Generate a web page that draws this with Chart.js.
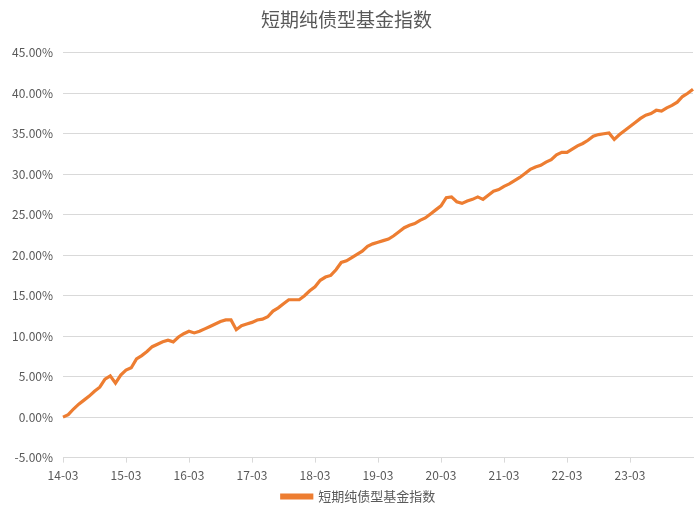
<!DOCTYPE html>
<html>
<head>
<meta charset="utf-8">
<script src="https://cdn.jsdelivr.net/npm/chart.js@4"></script>
<style>
    html, body { margin: 0; padding: 0; background: #fff; }
    #wrap { width: 700px; height: 513px; }
</style>
</head>
<body>
<div id="wrap"><canvas id="indexChart" width="700" height="513"></canvas></div>
<script>
const chartTitle = '短期纯债型基金指数';
const seriesName = '短期纯债型基金指数';

// years on the axis, one label per month from 14-03 to 24-03
const years = ['14', '15', '16', '17', '18', '19', '20', '21', '22', '23', '24'];
const monthNames = ['01', '02', '03', '04', '05', '06', '07', '08', '09', '10', '11', '12'];

// index value in %, one reading per month
const indexValues = [
    0.0, 0.3, 1.0, 1.6, 2.1, 2.6, 3.2, 3.7, 4.7, 5.1,
    4.2, 5.2, 5.8, 6.1, 7.2, 7.6, 8.1, 8.7, 9.0, 9.3,
    9.5, 9.3, 9.9, 10.3, 10.6, 10.4, 10.6, 10.9, 11.2, 11.5,
    11.8, 12.0, 12.0, 10.8, 11.3, 11.5, 11.7, 12.0, 12.1, 12.4,
    13.1, 13.5, 14.0, 14.5, 14.5, 14.5, 15.0, 15.6, 16.1, 16.9,
    17.3, 17.5, 18.2, 19.1, 19.3, 19.7, 20.1, 20.5, 21.1, 21.4,
    21.6, 21.8, 22.0, 22.4, 22.9, 23.4, 23.7, 23.9, 24.3, 24.6,
    25.1, 25.6, 26.1, 27.1, 27.2, 26.6, 26.4, 26.7, 26.9, 27.2,
    26.9, 27.4, 27.9, 28.1, 28.5, 28.8, 29.2, 29.6, 30.1, 30.6,
    30.9, 31.1, 31.5, 31.8, 32.4, 32.7, 32.7, 33.1, 33.5, 33.8,
    34.2, 34.7, 34.9, 35.0, 35.1, 34.3, 34.9, 35.4, 35.9, 36.4,
    36.9, 37.3, 37.5, 37.9, 37.8, 38.2, 38.5, 38.9, 39.6, 40.0,
    40.5
];

const lineColor = '#ED7D31';
const textColor = '#595959';
const gridColor = '#D9D9D9';
const fontFamily = '"Noto Sans CJK SC", "Noto Sans", sans-serif';

function buildMonths() {
    const labels = [];
    years.forEach((y, yi) => {
        monthNames.forEach((m, mi) => {
            if (yi === 0 && mi < 2) return;
            if (yi === years.length - 1 && mi > 2) return;
            labels.push(y + '-' + m);
        });
    });
    return labels;
}

const monthLabels = buildMonths();

// nudge the bottom legend a little to the right, like the original
const legendShift = {
    id: 'legendShift',
    afterLayout(chart) {
        if (!chart.legend) return;
        chart.legend.left += 12;
        chart.legend.right += 12;
    }
};

const ctx = document.getElementById('indexChart').getContext('2d');
new Chart(ctx, {
    type: 'line',
    data: {
        labels: monthLabels,
        datasets: [{
            label: seriesName,
            data: indexValues,
            borderColor: lineColor,
            backgroundColor: lineColor,
            borderWidth: 3.2,
            pointRadius: 0,
            tension: 0
        }]
    },
    options: {
        responsive: false,
        animation: false,
        layout: {
            padding: { left: 0, right: 7, top: 0, bottom: 0 }
        },
        plugins: {
            title: {
                display: true,
                text: chartTitle,
                color: textColor,
                font: { family: fontFamily, size: 19, weight: 'normal' },
                padding: { top: 8, bottom: 22 }
            },
            legend: {
                position: 'bottom',
                labels: {
                    color: textColor,
                    font: { family: fontFamily, size: 13 },
                    boxWidth: 30,
                    boxHeight: 3,
                    padding: 1
                }
            },
            tooltip: { enabled: false }
        },
        scales: {
            x: {
                type: 'category',
                offset: false,
                border: { display: true, color: gridColor, width: 1 },
                grid: {
                    drawOnChartArea: false,
                    drawTicks: true,
                    tickLength: 5,
                    color: gridColor
                },
                ticks: {
                    autoSkip: false,
                    maxRotation: 0,
                    color: textColor,
                    font: { family: fontFamily, size: 12 },
                    padding: 6,
                    callback: function(value, index) {
                        const label = monthLabels[index];
                        if (label.endsWith('-03') && index < monthLabels.length - 1) return label;
                        return null;
                    }
                }
            },
            y: {
                min: -5,
                max: 45,
                border: { display: false },
                grid: {
                    color: gridColor,
                    drawTicks: false
                },
                ticks: {
                    stepSize: 5,
                    color: textColor,
                    font: { family: fontFamily, size: 12 },
                    padding: 10,
                    callback: v => v.toFixed(2) + '%'
                },
                afterFit: scale => { scale.width = 63; }
            }
        }
    },
    plugins: [legendShift]
});
</script>
</body>
</html>
